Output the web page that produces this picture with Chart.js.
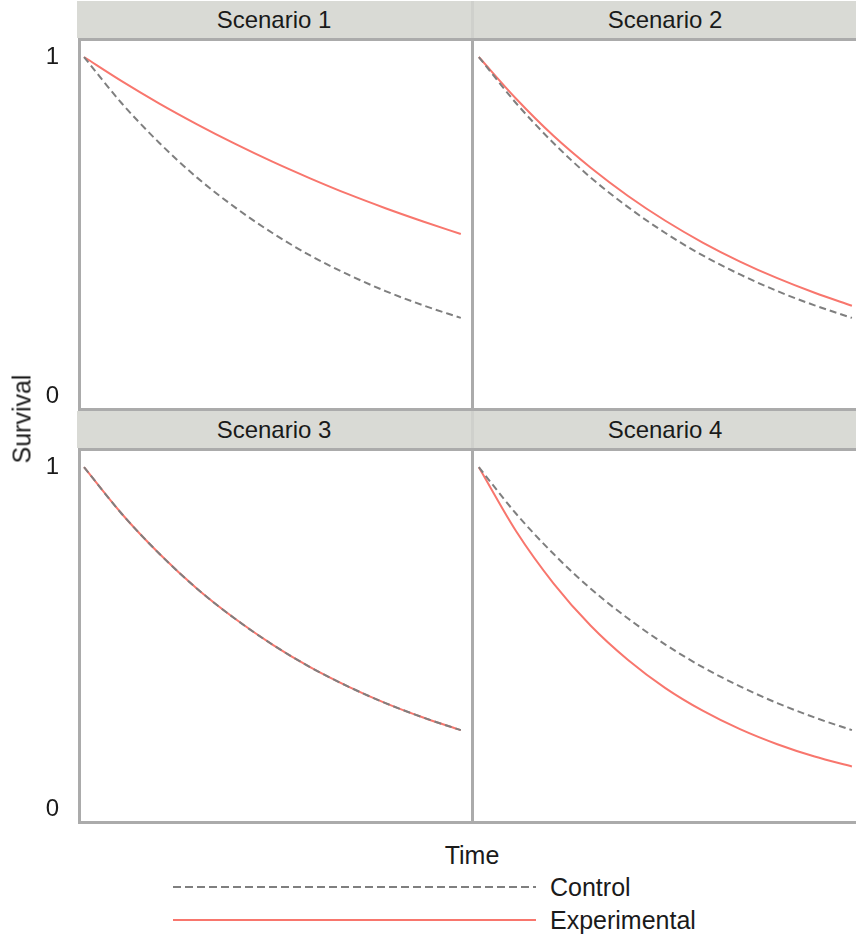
<!DOCTYPE html>
<html>
<head>
<meta charset="utf-8">
<script src="https://cdn.jsdelivr.net/npm/chart.js@4/dist/chart.umd.min.js"></script>
<style>
  body { margin: 0; background: #fff; font-family: "Liberation Sans", Arial, sans-serif; }
  #wrap { position: relative; width: 856px; height: 941px; overflow: hidden; }
  .strip { position: absolute; background: #d9dad5; color: #1a1a1a; font-size: 24px;
           text-align: center; line-height: 37px; height: 37px; }
  .box { position: absolute; }
  .lbl { position: absolute; font-size: 25px; color: #1a1a1a; white-space: nowrap; }
</style>
</head>
<body>
<div id="wrap">
  <div class="strip" style="left:77px;top:1px;width:394px;">Scenario 1</div>
  <div class="strip" style="left:474px;top:1px;width:382px;">Scenario 2</div>
  <div class="strip" style="left:77px;top:411px;width:394px;">Scenario 3</div>
  <div class="strip" style="left:474px;top:411px;width:382px;">Scenario 4</div>
  <div style="position:absolute;left:471px;top:1px;width:3px;height:37px;background:#cfd0cc;"></div>
  <div style="position:absolute;left:471px;top:411px;width:3px;height:37px;background:#cfd0cc;"></div>

  <div class="box" style="left:0;top:38px;width:474px;height:373px;"><canvas id="c1"></canvas></div>
  <div class="box" style="left:471px;top:38px;width:388px;height:373px;"><canvas id="c2"></canvas></div>
  <div class="box" style="left:0;top:448px;width:474px;height:376px;"><canvas id="c3"></canvas></div>
  <div class="box" style="left:471px;top:448px;width:388px;height:376px;"><canvas id="c4"></canvas></div>

  <div class="lbl" style="left:22px;top:419px;transform:translate(-50%,-50%) rotate(-90deg);">Survival</div>
  <div class="lbl" style="left:472px;top:855px;transform:translate(-50%,-50%);">Time</div>

  <svg style="position:absolute;left:0;top:870px;" width="856" height="71">
    <line x1="173" y1="17" x2="536" y2="17" stroke="#7f7f7f" stroke-width="2" stroke-dasharray="8,4"/>
    <line x1="173" y1="50" x2="536" y2="50" stroke="#f8766d" stroke-width="2"/>
    <text x="550" y="26" font-size="25" fill="#1a1a1a" font-family="Liberation Sans, Arial">Control</text>
    <text x="550" y="59" font-size="25" fill="#1a1a1a" font-family="Liberation Sans, Arial">Experimental</text>
  </svg>
</div>

<script>
// time points (same for all panels)
const times = [0, 1, 2, 3, 4, 5, 6, 7, 8, 9, 10];
const yTicks = [0, 1];

// survival
const control1 = [1, 0.864, 0.747, 0.645, 0.558, 0.482, 0.416, 0.360, 0.311, 0.269, 0.232];
const exper1   = [1, 0.929, 0.863, 0.802, 0.745, 0.692, 0.643, 0.597, 0.555, 0.516, 0.479];
const control2 = [1, 0.864, 0.747, 0.645, 0.558, 0.482, 0.416, 0.360, 0.311, 0.269, 0.232];
const exper2   = [1, 0.877, 0.768, 0.674, 0.591, 0.518, 0.454, 0.398, 0.349, 0.306, 0.268];
const control3 = [1, 0.864, 0.747, 0.645, 0.558, 0.482, 0.416, 0.360, 0.311, 0.269, 0.232];
const exper3   = [1, 0.864, 0.747, 0.645, 0.558, 0.482, 0.416, 0.360, 0.311, 0.269, 0.232];
const control4 = [1, 0.864, 0.747, 0.645, 0.558, 0.482, 0.416, 0.360, 0.311, 0.269, 0.232];
const exper4   = [1, 0.813, 0.661, 0.537, 0.437, 0.355, 0.289, 0.235, 0.191, 0.155, 0.126];

const CTRL = '#7f7f7f';
const EXP = '#f8766d';

function pts(vals) {
    return times.map((t, i) => ({x: t, y: vals[i]}));
}

// grey frame round the plot area
const frame = {
    id: 'frame',
    afterDraw(chart) {
        const a = chart.chartArea;
        const ctx = chart.ctx;
        ctx.save();
        ctx.strokeStyle = '#ababab';
        ctx.lineWidth = 3;
        ctx.strokeRect(a.left + 1.5, a.top + 1.5, a.right - a.left - 3, a.bottom - a.top - 3);
        ctx.restore();
    }
};

function makeChart(id, ctrl, exp, left, xMin, xMax) {
    new Chart(document.getElementById(id), {
        type: 'line',
        data: {
            datasets: [
                {label: 'Control', data: pts(ctrl), borderColor: CTRL, borderWidth: 2,
                 borderDash: [7, 4], pointRadius: 0, cubicInterpolationMode: 'monotone'},
                {label: 'Experimental', data: pts(exp), borderColor: EXP, borderWidth: 2,
                 pointRadius: 0, cubicInterpolationMode: 'monotone'}
            ]
        },
        options: {
            responsive: true,
            maintainAspectRatio: false,
            animation: false,
            layout: {padding: 0},
            plugins: {legend: {display: false}, tooltip: {enabled: false}},
            scales: {
                x: {type: 'linear', min: xMin, max: xMax, display: false},
                y: {
                    min: -0.042, max: 1.056,
                    display: left,
                    grid: {display: false, drawTicks: false},
                    border: {display: false},
                    afterBuildTicks: s => { s.ticks = yTicks.map(v => ({value: v})); },
                    afterFit: s => {
                        if (left) s.width = 78;
                        s.paddingTop = 0;
                        s.paddingBottom = 0;
                    },
                    ticks: {padding: 19, color: '#1a1a1a', font: {family: 'Liberation Sans', size: 24}}
                }
            }
        },
        plugins: [frame]
    });
}

makeChart('c1', control1, exper1, true, -0.16, 10.35);
makeChart('c2', control2, exper2, false, -0.21, 10.19);
makeChart('c3', control3, exper3, true, -0.16, 10.35);
makeChart('c4', control4, exper4, false, -0.21, 10.19);
</script>
</body>
</html>
